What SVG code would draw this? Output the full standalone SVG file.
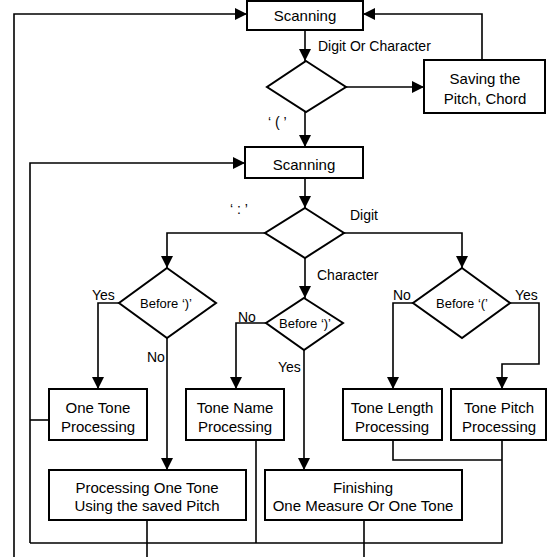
<svg xmlns="http://www.w3.org/2000/svg" width="547" height="557" viewBox="0 0 547 557">
<style>
.box{fill:#fff;stroke:#000;stroke-width:2}
.dia{fill:#fff;stroke:#000;stroke-width:2}
.ln{fill:none;stroke:#000;stroke-width:1.6}
.t{font-family:"Liberation Sans",Arial,sans-serif;font-size:15px;text-anchor:middle;fill:#000}
.d{font-family:"Liberation Sans",Arial,sans-serif;font-size:13px;text-anchor:middle;fill:#000}
.l{font-family:"Liberation Sans",Arial,sans-serif;font-size:14px;fill:#000}
</style>
<defs>
<marker id="ah" viewBox="0 0 12 12" refX="12" refY="6" markerWidth="12" markerHeight="12" markerUnits="userSpaceOnUse" orient="auto">
<path d="M0,0 L12,6 L0,12 z" fill="#000"/>
</marker>
</defs>
<rect width="547" height="557" fill="#fff"/>
<g id="connectors">
<path class="ln" d="M305,30 V61" marker-end="url(#ah)"/>
<path class="ln" d="M346,87 H424" marker-end="url(#ah)"/>
<path class="ln" d="M482,60 V14 H363" marker-end="url(#ah)"/>
<path class="ln" d="M14,557 V14 H247" marker-end="url(#ah)"/>
<path class="ln" d="M305,112 V147" marker-end="url(#ah)"/>
<path class="ln" d="M30,543 V163 H245" marker-end="url(#ah)"/>
<path class="ln" d="M305,178 V208" marker-end="url(#ah)"/>
<path class="ln" d="M265,233 H167 V268" marker-end="url(#ah)"/>
<path class="ln" d="M344,233 H462 V268" marker-end="url(#ah)"/>
<path class="ln" d="M305,258 V298" marker-end="url(#ah)"/>
<path class="ln" d="M119,303 H98 V389" marker-end="url(#ah)"/>
<path class="ln" d="M167,338 V470" marker-end="url(#ah)"/>
<path class="ln" d="M266,323 H236 V389" marker-end="url(#ah)"/>
<path class="ln" d="M304,350 V470" marker-end="url(#ah)"/>
<path class="ln" d="M413,303 H393 V389" marker-end="url(#ah)"/>
<path class="ln" d="M510,303 H539 V364 H502 V389" marker-end="url(#ah)"/>
<path class="ln" d="M49,420 H30"/>
<path class="ln" d="M256,440 V543"/>
<path class="ln" d="M393,440 V460 H502"/>
<path class="ln" d="M502,440 V543 H30"/>
<path class="ln" d="M147,520 V557"/>
<path class="ln" d="M364,520 V557"/>
<text class="l" x="318" y="51">Digit Or Character</text>
<text class="l" x="268" y="127">‘ ( ’</text>
<text class="l" x="230" y="214">‘ : ’</text>
<text class="l" x="350" y="220">Digit</text>
<text class="l" x="317" y="280">Character</text>
<text class="l" x="92" y="300">Yes</text>
<text class="l" x="147" y="362">No</text>
<text class="l" x="238" y="322">No</text>
<text class="l" x="278" y="372">Yes</text>
<text class="l" x="393" y="300">No</text>
<text class="l" x="515" y="300">Yes</text>
</g>
<g id="scan1">
<rect class="box" x="247" y="1" width="116" height="29"/>
<text class="t" x="305" y="21">Scanning</text>
</g>
<g id="dec1">
<polygon class="dia" points="306,61 346,87 306,112 267,87"/>
</g>
<g id="saving">
<rect class="box" x="424" y="60" width="121" height="53"/>
<text class="t" x="485" y="84">Saving the</text>
<text class="t" x="485" y="104">Pitch, Chord</text>
</g>
<g id="scan2">
<rect class="box" x="245" y="147" width="118" height="31"/>
<text class="t" x="304" y="170">Scanning</text>
</g>
<g id="dec2">
<polygon class="dia" points="305,208 344,233 305,258 265,233"/>
</g>
<g id="dec3">
<polygon class="dia" points="167,268 216,303 167,338 119,303"/>
<text class="d" x="166" y="308">Before ‘)’</text>
</g>
<g id="dec4">
<polygon class="dia" points="304,298 343,323 304,350 266,323"/>
<text class="d" x="305" y="328">Before ‘)’</text>
</g>
<g id="dec5">
<polygon class="dia" points="462,268 510,303 462,338 413,303"/>
<text class="d" x="462" y="308">Before ‘(’</text>
</g>
<g id="oneTone">
<rect class="box" x="49" y="389" width="98" height="51"/>
<text class="t" x="98" y="413">One Tone</text>
<text class="t" x="98" y="432">Processing</text>
</g>
<g id="toneName">
<rect class="box" x="186" y="389" width="98" height="51"/>
<text class="t" x="235" y="413">Tone Name</text>
<text class="t" x="235" y="432">Processing</text>
</g>
<g id="toneLength">
<rect class="box" x="343" y="389" width="99" height="51"/>
<text class="t" x="392" y="413">Tone Length</text>
<text class="t" x="392" y="432">Processing</text>
</g>
<g id="tonePitch">
<rect class="box" x="451" y="389" width="95" height="51"/>
<text class="t" x="499" y="413">Tone Pitch</text>
<text class="t" x="499" y="432">Processing</text>
</g>
<g id="procSaved">
<rect class="box" x="49" y="470" width="197" height="50"/>
<text class="t" x="147" y="493">Processing One Tone</text>
<text class="t" x="147" y="511">Using the saved Pitch</text>
</g>
<g id="finishing">
<rect class="box" x="265" y="470" width="197" height="50"/>
<text class="t" x="363" y="493">Finishing</text>
<text class="t" x="363" y="511">One Measure Or One Tone</text>
</g>
</svg>
